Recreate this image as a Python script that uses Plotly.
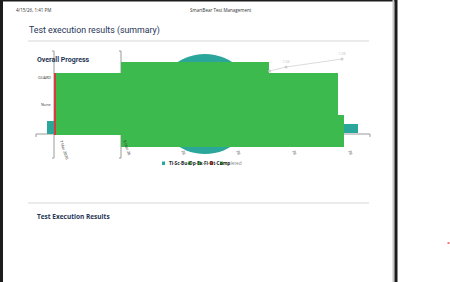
import plotly.graph_objects as go

W, H = 450, 282

# ---------------- data (chart units) ----------------
tick_pos = [0.0, 1.155, 2.138, 3.086, 4.052, 5.017]
tick_text = ["7 Mar 2026", "8 Mar 26", "26", "26", "26", "26"]

green_left = [0.017, 1.155, 3.707, 4.897]
green_right = [1.155, 3.707, 4.897, 5.0]
green_bottom = [-1, -13, -13, -13]
green_top = [61, 72, 61, 19]

red_left = [0.0]
red_right = [0.034]
red_bottom = [-1]
red_top = [61]

teal_left = [-0.121, 5.0]
teal_right = [0.0, 5.241]
teal_bottom = [0, 1]
teal_top = [13, 10]

trend_x = [3.72, 4.0, 4.966]
trend_y = [63, 67, 75]
trend_labels = ["", "1.04", "1.09"]

ycat_labels = ["GUARD", "None"]
ycat_pos = [57, 30]

legend_text = "Ti·Sc·Bu·Op·Ex·Fi·Ot·Comp"
legend_tail = "leted"
legend_colors = ["#2ba69a", "#3dba4e", "#3dba4e", "#d94040", "#3dba4e"]
legend_sq_x = [162, 188, 198, 210, 220]

# pie-ish background circle (chart units)
circle_cx, circle_cy, circle_rx, circle_ry = 2.603, 30, 0.862, 50

# ---------------- helpers ----------------
def px(x):
    return x / W

def py(y):
    return 1 - y / H

GREEN = "#3dba4e"
TEAL = "#2ba69a"
RED = "#d63c3c"
NAVY = "#1f3556"

fig = go.Figure()

fig.add_trace(go.Scatter(
    x=trend_x, y=trend_y, mode="lines+markers+text",
    line=dict(color="#dcdcdc", width=1),
    marker=dict(color="#cfcfcf", size=3),
    text=trend_labels, textposition="top center",
    textfont=dict(size=3.5, color="#bbbbbb"),
    hoverinfo="skip", showlegend=False))

def add_bars(lefts, rights, bottoms, tops, color):
    fig.add_trace(go.Bar(
        x=[(l + r) / 2 for l, r in zip(lefts, rights)],
        width=[r - l for l, r in zip(lefts, rights)],
        base=bottoms,
        y=[t - b for t, b in zip(tops, bottoms)],
        marker=dict(color=color, line=dict(width=0)),
        hoverinfo="skip", showlegend=False))

add_bars(teal_left, teal_right, teal_bottom, teal_top, TEAL)
add_bars(green_left, green_right, green_bottom, green_top, GREEN)
add_bars(red_left, red_right, red_bottom, red_top, RED)

shapes = []
shapes.append(dict(type="circle", xref="x", yref="y", layer="below",
                   x0=circle_cx - circle_rx, x1=circle_cx + circle_rx,
                   y0=circle_cy - circle_ry, y1=circle_cy + circle_ry,
                   fillcolor=TEAL, line=dict(width=0)))
shapes.append(dict(type="line", xref="paper", yref="y", layer="below",
                   x0=px(36), x1=px(370), y0=0, y1=0, line=dict(color="#9a9a9a", width=1)))
for xx in [36, 370]:
    shapes.append(dict(type="line", xref="paper", yref="paper", layer="below",
                       x0=px(xx), x1=px(xx), y0=py(134), y1=py(137), line=dict(color="#9a9a9a", width=1)))
for xx in [54, 121]:
    shapes.append(dict(type="line", xref="paper", yref="paper", layer="below",
                       x0=px(xx), x1=px(xx), y0=py(51), y1=py(158), line=dict(color="#9a9a9a", width=1)))
    shapes.append(dict(type="line", xref="paper", yref="paper", layer="below",
                       x0=px(xx - 2), x1=px(xx), y0=py(51), y1=py(51), line=dict(color="#9a9a9a", width=1)))
    shapes.append(dict(type="line", xref="paper", yref="paper", layer="below",
                       x0=px(xx - 2), x1=px(xx), y0=py(158), y1=py(158), line=dict(color="#9a9a9a", width=1)))
for yy in [41, 203]:
    shapes.append(dict(type="line", xref="paper", yref="paper",
                       x0=px(28), x1=px(369), y0=py(yy), y1=py(yy),
                       line=dict(color="#e4e4e4", width=1.5)))
shapes.append(dict(type="rect", xref="paper", yref="paper", x0=0, x1=px(3), y0=0, y1=1,
                   fillcolor="#1c1c1c", line=dict(width=0)))
shapes.append(dict(type="rect", xref="paper", yref="paper", x0=0, x1=px(397), y0=py(1.5), y1=1,
                   fillcolor="#1c1c1c", line=dict(width=0)))
shapes.append(dict(type="rect", xref="paper", yref="paper", x0=px(392.5), x1=px(394.5), y0=0, y1=1,
                   fillcolor="#c8c8c8", line=dict(width=0)))
shapes.append(dict(type="rect", xref="paper", yref="paper", x0=px(394.5), x1=px(397.5), y0=0, y1=1,
                   fillcolor="#1c1c1c", line=dict(width=0)))
shapes.append(dict(type="rect", xref="paper", yref="paper", x0=px(447.5), x1=px(449.5), y0=py(244), y1=py(242),
                   fillcolor="#f07a7a", line=dict(width=0)))
for c, x0 in zip(legend_colors, legend_sq_x):
    shapes.append(dict(type="rect", xref="paper", yref="paper",
                       x0=px(x0), x1=px(x0 + 3), y0=py(165), y1=py(161.5),
                       fillcolor=c, line=dict(width=0)))

ann = []
FONT = "Open Sans"
ann.append(dict(x=px(14), y=py(10), text="4/15/26, 1:41 PM", xanchor="left", yanchor="middle",
                font=dict(size=4.5, color="#333", family=FONT)))
ann.append(dict(x=px(221), y=py(10), text="SmartBear Test Management", xanchor="center", yanchor="middle",
                font=dict(size=4.5, color="#333", family=FONT)))
ann.append(dict(x=px(27), y=py(31), text="Test execution results (summary)", xanchor="left", yanchor="middle",
                font=dict(size=8.8, color=NAVY, family="Roboto")))
ann.append(dict(x=px(35), y=py(60), text="<b>Overall Progress</b>", xanchor="left", yanchor="middle",
                font=dict(size=7, color=NAVY, family="Roboto")))
ann.append(dict(x=px(35), y=py(216), text="<b>Test Execution Results</b>", xanchor="left", yanchor="middle",
                font=dict(size=6.5, color=NAVY, family=FONT)))
for t, v in zip(ycat_labels, ycat_pos):
    ann.append(dict(x=px(53), xref="paper", y=v, yref="y", text=t, xanchor="right", yanchor="middle",
                    font=dict(size=3.8, color="#333", family=FONT)))
for i, (t, v) in enumerate(zip(tick_text, tick_pos)):
    ann.append(dict(x=v + (0.17 if i == 0 else 0.1), xref="x", y=py(137 if i < 2 else 147), yref="paper", text=t,
                    textangle=72, xanchor="center", yanchor="top",
                    font=dict(size=3.8, color="#333", family=FONT)))
ann.append(dict(x=px(167), y=py(163.3), text="<b>" + legend_text + "</b><span style='color:#888'>" + legend_tail + "</span>",
                xanchor="left", yanchor="middle",
                font=dict(size=4.8, color="#222", family=FONT)))

for a in ann:
    a.setdefault("xref", "paper")
    a.setdefault("yref", "paper")
    a["showarrow"] = False

fig.update_layout(
    width=W, height=H,
    margin=dict(l=0, r=0, t=0, b=0, pad=0),
    paper_bgcolor="white", plot_bgcolor="rgba(0,0,0,0)",
    barmode="overlay", bargap=0,
    xaxis=dict(range=[-54 / 58, (W - 54) / 58], visible=False, fixedrange=True),
    yaxis=dict(range=[134 - H, 134], visible=False, fixedrange=True),
    shapes=shapes, annotations=ann, showlegend=False,
)

fig.write_html("out.html", config={"displayModeBar": False})
